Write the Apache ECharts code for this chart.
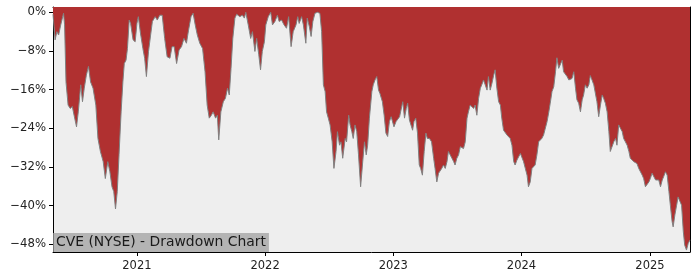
<!DOCTYPE html>
<html>
<head>
<meta charset="utf-8">
<script src="https://cdn.jsdelivr.net/npm/echarts@6/dist/echarts.min.js"></script>
<style>
html,body{margin:0;padding:0;background:#fff;}
#chart{width:700px;height:280px;}
</style>
</head>
<body>
<div id="chart"></div>
<script>
const chartTitle = 'CVE (NYSE) - Drawdown Chart';
const yTicks = [0, -8, -16, -24, -32, -40, -48];
const xTickDates = ['2021-01-01', '2022-01-01', '2023-01-01', '2024-01-01', '2025-01-01'];
const dates = [
'2020-05-07','2020-05-13','2020-05-18','2020-05-23','2020-05-29','2020-06-06','2020-06-09','2020-06-13','2020-06-19','2020-06-25',
'2020-07-01','2020-07-06','2020-07-13','2020-07-18','2020-07-25','2020-07-30','2020-08-04','2020-08-10','2020-08-16','2020-08-22',
'2020-08-29','2020-09-06','2020-09-12','2020-09-19','2020-09-27','2020-10-03','2020-10-10','2020-10-16','2020-10-22','2020-10-27',
'2020-11-01','2020-11-06','2020-11-11','2020-11-17','2020-11-22','2020-11-26','2020-12-01','2020-12-05','2020-12-10','2020-12-14',
'2020-12-21','2020-12-27','2021-01-01','2021-01-05','2021-01-11','2021-01-18','2021-01-23','2021-01-28','2021-02-03','2021-02-09',
'2021-02-14','2021-02-22','2021-02-28','2021-03-07','2021-03-14','2021-03-21','2021-03-28','2021-04-05','2021-04-11','2021-04-17',
'2021-04-24','2021-05-01','2021-05-08','2021-05-15','2021-05-22','2021-05-28','2021-06-04','2021-06-10','2021-06-16','2021-06-22',
'2021-06-29','2021-07-07','2021-07-14','2021-07-20','2021-07-26','2021-08-01','2021-08-06','2021-08-13','2021-08-18','2021-08-22',
'2021-08-28','2021-09-04','2021-09-10','2021-09-16','2021-09-21','2021-09-26','2021-10-01','2021-10-07','2021-10-12','2021-10-21',
'2021-10-28','2021-11-03','2021-11-07','2021-11-14','2021-11-21','2021-11-26','2021-12-03','2021-12-08','2021-12-14','2021-12-19',
'2021-12-24','2021-12-30','2022-01-03','2022-01-10','2022-01-17','2022-01-22','2022-01-29','2022-02-05','2022-02-10','2022-02-17',
'2022-02-24','2022-03-03','2022-03-09','2022-03-16','2022-03-22','2022-03-30','2022-04-04','2022-04-08','2022-04-15','2022-04-20',
'2022-04-27','2022-05-01','2022-05-07','2022-05-12','2022-05-17','2022-05-23','2022-05-30','2022-06-06','2022-06-11','2022-06-16',
'2022-06-21','2022-06-25','2022-06-30','2022-07-05','2022-07-11','2022-07-16','2022-07-22','2022-07-26','2022-08-01','2022-08-05',
'2022-08-10','2022-08-17','2022-08-21','2022-08-27','2022-08-31','2022-09-05','2022-09-09','2022-09-14','2022-09-19','2022-09-24',
'2022-09-30','2022-10-06','2022-10-11','2022-10-16','2022-10-20','2022-10-25','2022-11-01','2022-11-05','2022-11-10','2022-11-15',
'2022-11-20','2022-11-24','2022-12-01','2022-12-06','2022-12-11','2022-12-16','2022-12-21','2022-12-26','2022-12-31','2023-01-03',
'2023-01-09','2023-01-14','2023-01-19','2023-01-23','2023-01-28','2023-02-02','2023-02-07','2023-02-11','2023-02-16','2023-02-21',
'2023-02-25','2023-03-01','2023-03-06','2023-03-11','2023-03-16','2023-03-20','2023-03-25','2023-03-30','2023-04-04','2023-04-08',
'2023-04-14','2023-04-20','2023-04-26','2023-04-30','2023-05-05','2023-05-10','2023-05-15','2023-05-19','2023-05-24','2023-05-29',
'2023-06-03','2023-06-07','2023-06-12','2023-06-17','2023-06-22','2023-06-26','2023-07-01','2023-07-06','2023-07-11','2023-07-15',
'2023-07-20','2023-07-25','2023-07-30','2023-08-03','2023-08-08','2023-08-13','2023-08-18','2023-08-22','2023-08-27','2023-09-01',
'2023-09-06','2023-09-10','2023-09-15','2023-09-20','2023-09-25','2023-09-29','2023-10-04','2023-10-09','2023-10-14','2023-10-18',
'2023-10-23','2023-10-28','2023-11-02','2023-11-06','2023-11-11','2023-11-16','2023-11-21','2023-11-25','2023-11-30','2023-12-05',
'2023-12-10','2023-12-14','2023-12-19','2023-12-24','2023-12-29','2024-01-02','2024-01-07','2024-01-12','2024-01-17','2024-01-21',
'2024-01-26','2024-01-31','2024-02-04','2024-02-09','2024-02-14','2024-02-19','2024-02-23','2024-02-28','2024-03-04','2024-03-09',
'2024-03-14','2024-03-19','2024-03-23','2024-03-28','2024-04-02','2024-04-07','2024-04-11','2024-04-16','2024-04-21','2024-04-26',
'2024-04-30','2024-05-05','2024-05-10','2024-05-15','2024-05-19','2024-05-24','2024-05-29','2024-06-03','2024-06-07','2024-06-12',
'2024-06-17','2024-06-22','2024-06-26','2024-07-01','2024-07-06','2024-07-11','2024-07-15','2024-07-20','2024-07-25','2024-07-30',
'2024-08-03','2024-08-08','2024-08-13','2024-08-18','2024-08-22','2024-08-27','2024-09-01','2024-09-06','2024-09-10','2024-09-15',
'2024-09-20','2024-09-25','2024-09-29','2024-10-04','2024-10-09','2024-10-14','2024-10-18','2024-10-23','2024-10-28','2024-11-02',
'2024-11-06','2024-11-11','2024-11-16','2024-11-21','2024-11-25','2024-11-30','2024-12-05','2024-12-10','2024-12-14','2024-12-19',
'2024-12-24','2024-12-29','2025-01-02','2025-01-07','2025-01-12','2025-01-17','2025-01-21','2025-01-26','2025-01-31','2025-02-05',
'2025-02-09','2025-02-14','2025-02-19','2025-02-24','2025-02-28','2025-03-05','2025-03-08','2025-03-13','2025-03-18','2025-03-22',
'2025-03-27','2025-04-01','2025-04-06','2025-04-10','2025-04-15','2025-04-20','2025-04-25'
];
const drawdown = [
-0.4,-5.7,-4.0,-4.7,-2.6,-0.2,-2.6,-14.4,-19.2,-19.9,
-19.5,-21.3,-23.7,-20.6,-15.0,-18.5,-15.7,-13.0,-11.2,-14.4,
-15.7,-19.2,-26.1,-28.8,-30.9,-34.4,-30.9,-33.0,-36.1,-37.1,
-40.7,-37.1,-29.5,-20.6,-14.4,-10.6,-9.9,-7.5,-1.6,-2.3,
-5.7,-6.1,-2.3,-0.9,-4.3,-7.5,-9.5,-13.3,-8.1,-4.7,
-1.9,-0.9,-1.6,-0.6,-0.6,-5.4,-9.2,-9.5,-7.1,-7.1,
-10.6,-7.8,-7.1,-5.4,-6.4,-3.7,-0.9,-0.2,-2.6,-4.7,
-6.4,-7.5,-12.3,-19.2,-21.9,-21.3,-20.6,-21.9,-21.3,-26.4,
-20.6,-18.5,-17.8,-15.7,-17.1,-11.6,-5.4,-1.2,-0.4,-0.9,
-0.6,-1.2,0,-2.6,-5.4,-4.0,-8.1,-5.4,-8.8,-11.9,
-8.1,-6.1,-2.6,-0.9,0,-2.6,-1.9,-0.6,-1.9,-1.6,
-2.6,-3.3,-0.9,-7.1,-4.0,-2.6,-0.9,-2.3,-0.9,-2.6,
-6.4,-1.2,-3.0,-5.0,-1.9,-0.2,0,-0.2,-4.0,-15.0,
-16.4,-20.6,-21.9,-23.3,-26.8,-32.3,-28.8,-24.7,-27.5,-26.8,
-30.2,-26.1,-26.8,-21.3,-23.3,-24.7,-26.1,-23.3,-24.7,-29.5,
-36.1,-30.9,-26.8,-29.5,-27.5,-21.9,-16.4,-15.0,-14.0,-13.3,
-16.1,-16.8,-18.5,-21.3,-25.0,-25.7,-22.6,-21.6,-21.3,-23.7,
-22.6,-22.3,-21.6,-21.6,-18.5,-21.9,-19.9,-18.8,-22.3,-22.6,
-24.4,-22.6,-21.9,-25.0,-31.6,-32.3,-33.7,-28.8,-25.0,-26.1,
-26.1,-26.8,-30.2,-32.3,-35.1,-33.3,-33.7,-32.3,-31.6,-32.3,
-30.9,-28.8,-29.5,-30.2,-30.9,-31.6,-30.2,-29.5,-27.8,-27.5,
-28.2,-26.8,-21.9,-20.6,-19.2,-18.8,-19.9,-19.2,-21.3,-17.8,
-15.7,-15.0,-14.0,-14.0,-16.1,-13.3,-16.1,-14.7,-13.0,-11.9,
-15.7,-18.5,-19.2,-21.9,-24.4,-24.7,-25.4,-25.7,-26.1,-27.5,
-30.9,-31.6,-30.6,-29.9,-29.2,-29.5,-30.9,-32.3,-33.7,-36.1,
-35.1,-32.3,-32.6,-31.6,-29.5,-26.8,-26.4,-26.1,-25.4,-25.0,
-22.6,-20.6,-18.8,-16.4,-15.4,-12.3,-9.4,-11.6,-11.2,-9.9,
-12.3,-12.6,-13.3,-14.0,-14.4,-13.7,-12.3,-15.7,-18.1,-18.8,
-20.6,-18.1,-17.1,-15.0,-15.7,-15.0,-13.1,-14.0,-15.0,-15.4,
-18.5,-21.6,-19.2,-17.1,-17.8,-18.8,-20.6,-24.7,-28.8,-28.8,
-26.8,-26.1,-27.5,-23.3,-23.0,-24.7,-26.1,-26.8,-27.5,-28.8,
-30.2,-30.2,-30.9,-30.6,-31.3,-32.3,-32.6,-33.7,-34.4,-36.1,
-36.1,-35.1,-34.4,-33.3,-33.7,-34.7,-35.1,-34.7,-36.1,-34.7,
-34.0,-33.0,-33.7,-37.1,-39.9,-43.3,-44.4,-41.9,-39.9,-38.2,
-38.2,-39.9,-45.4,-48.2,-49.2,-47.8,-47.1
];

const toTime = d => Date.UTC(+d.slice(0, 4), +d.slice(5, 7) - 1, +d.slice(8, 10));
const seriesData = dates.map((d, i) => [toTime(d), drawdown[i]]);
const tickTimes = xTickDates.map(toTime);
const xMin = toTime(dates[0]);
const xMax = toTime(dates[dates.length - 1]);
const yMin = -49.6, yMax = 1.1;
const font = 'DejaVu Sans';

const chart = echarts.init(document.getElementById('chart'), null, {renderer: 'canvas'});
chart.setOption({
  animation: false,
  backgroundColor: '#ffffff',
  title: {
    text: chartTitle,
    left: 53,
    top: 233,
    padding: [2, 3, 2, 3],
    backgroundColor: 'rgba(160,160,160,0.75)',
    textStyle: {fontFamily: font, fontSize: 13.9, fontWeight: 'normal', color: '#1a1a1a', lineHeight: 15}
  },
  grid: {left: 53, right: 10, top: 7, bottom: 28, show: true, backgroundColor: '#eeeeee', borderWidth: 0},
  xAxis: [{
    type: 'value', min: xMin, max: xMax,
    axisLine: {show: true, onZero: false, lineStyle: {color: '#000', width: 1}},
    axisTick: {show: true, length: 4, lineStyle: {color: '#000'}, customValues: tickTimes},
    axisLabel: {customValues: tickTimes, formatter: v => String(new Date(v).getUTCFullYear()), fontFamily: font, fontSize: 11.5, color: '#222', margin: 8},
    splitLine: {show: false}
  }, {
    type: 'value', min: xMin, max: xMax, position: 'top',
    axisLine: {show: true, onZero: false, lineStyle: {color: '#000', width: 1}},
    axisTick: {show: false}, axisLabel: {show: false}, splitLine: {show: false}
  }],
  yAxis: [{
    type: 'value', min: yMin, max: yMax,
    axisLine: {show: true, onZero: false, lineStyle: {color: '#000', width: 1}},
    axisTick: {show: true, length: 4, lineStyle: {color: '#000'}, customValues: yTicks},
    axisLabel: {customValues: yTicks, formatter: v => (v === 0 ? '0%' : '\u2212' + Math.abs(v) + '%'), fontFamily: font, fontSize: 11.7, color: '#222', margin: 7},
    splitLine: {show: false}
  }, {
    type: 'value', min: yMin, max: yMax, position: 'right',
    axisLine: {show: true, onZero: false, lineStyle: {color: '#000', width: 1}},
    axisTick: {show: false}, axisLabel: {show: false}, splitLine: {show: false}
  }],
  series: [{
    type: 'line',
    data: seriesData,
    xAxisIndex: 0, yAxisIndex: 0,
    showSymbol: false,
    lineStyle: {color: '#808080', width: 1},
    areaStyle: {color: '#b03030', opacity: 1, origin: 'end'},
    z: 1
  }]
});
</script>
</body>
</html>
